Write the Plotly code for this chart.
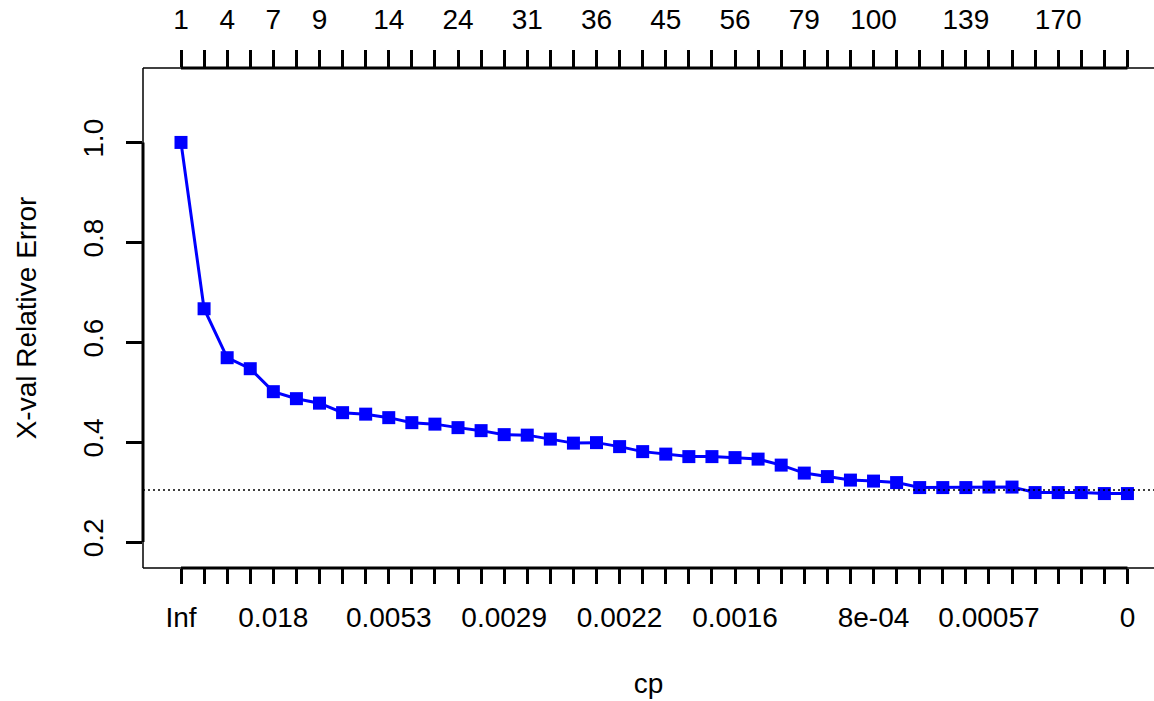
import plotly.graph_objects as go

# ---- data ----
xerror = [1.000, 0.667, 0.569, 0.547, 0.501, 0.487, 0.478, 0.459, 0.456, 0.449,
          0.439, 0.436, 0.429, 0.423, 0.415, 0.414, 0.406, 0.398, 0.399, 0.391,
          0.381, 0.376, 0.371, 0.371, 0.369, 0.366, 0.354, 0.338, 0.331, 0.324,
          0.322, 0.319, 0.309, 0.309, 0.309, 0.310, 0.310, 0.299, 0.299, 0.299,
          0.297, 0.297]
positions = list(range(len(xerror)))

size_tick_idx = [0, 2, 4, 6, 9, 12, 15, 18, 21, 24, 27, 30, 34, 38]
size_tick_lab = ["1", "4", "7", "9", "14", "24", "31", "36", "45", "56", "79", "100", "139", "170"]

cp_tick_idx = [0, 4, 9, 14, 19, 24, 30, 35, 41]
cp_tick_lab = ["Inf", "0.018", "0.0053", "0.0029", "0.0022", "0.0016", "8e-04", "0.00057", "0"]

y_tick_vals = [0.2, 0.4, 0.6, 0.8, 1.0]
y_tick_lab = ["0.2", "0.4", "0.6", "0.8", "1.0"]

threshold = 0.304

FONT = "Liberation Sans, Arial, sans-serif"
FS = 28

top_text = [size_tick_lab[size_tick_idx.index(i)] if i in size_tick_idx else "" for i in positions]
bot_text = [cp_tick_lab[cp_tick_idx.index(i)] if i in cp_tick_idx else "" for i in positions]

fig = go.Figure()
fig.add_trace(go.Scatter(x=positions, y=xerror, mode="lines+markers",
                         line=dict(color="#0000FF", width=3),
                         marker=dict(symbol="square", size=13, color="#0000FF"),
                         showlegend=False, hoverinfo="skip"))
fig.add_trace(go.Scatter(x=[positions[0]], y=[None], xaxis="x2", mode="markers",
                         showlegend=False, hoverinfo="skip"))

xr = [-1.646, 42.15]
fig.update_layout(
    width=1154, height=701,
    margin=dict(l=143, r=0, t=68, b=133, autoexpand=False),
    paper_bgcolor="white", plot_bgcolor="white",
    font=dict(family=FONT, size=FS, color="black"),
    xaxis=dict(range=xr, tickmode="array", tickvals=positions, ticktext=bot_text,
               ticks="outside", ticklen=15, tickwidth=3, tickcolor="black",
               showgrid=False, zeroline=False, showline=False, automargin=False,
               ticklabelstandoff=9,
               tickfont=dict(family=FONT, size=FS, color="black"),
               title=dict(text="cp", standoff=41, font=dict(family=FONT, size=FS))),
    xaxis2=dict(range=xr, overlaying="x", side="top", tickmode="array",
                tickvals=positions, ticktext=top_text,
                ticks="outside", ticklen=17, tickwidth=3, tickcolor="black",
                showgrid=False, zeroline=False, showline=False, automargin=False,
                ticklabelstandoff=10,
                tickfont=dict(family=FONT, size=FS, color="black")),
    yaxis=dict(range=[0.148, 1.149], tickmode="array", tickvals=y_tick_vals, ticktext=y_tick_lab,
               ticks="outside", ticklen=16, tickwidth=3, tickcolor="black", tickangle=-90,
               showgrid=False, zeroline=False, showline=False, automargin=False,
               ticklabelstandoff=12,
               tickfont=dict(family=FONT, size=FS, color="black"),
               title=dict(text="X-val Relative Error", standoff=32, font=dict(family=FONT, size=FS))),
)

# box (thin) on left, top, bottom
box = dict(color="black", width=1.5)
fig.add_shape(type="line", xref="paper", yref="paper", x0=0, x1=0, y0=0, y1=1, line=box)
fig.add_shape(type="line", xref="paper", yref="paper", x0=0, x1=1, y0=1, y1=1, line=box)
fig.add_shape(type="line", xref="paper", yref="paper", x0=0, x1=1, y0=0, y1=0, line=box)
# axis lines (thick) spanning tick range
ax = dict(color="black", width=3)
fig.add_shape(type="line", xref="x", yref="paper", x0=positions[0], x1=positions[-1], y0=0, y1=0, line=ax)
fig.add_shape(type="line", xref="x", yref="paper", x0=positions[0], x1=positions[-1], y0=1, y1=1, line=ax)
fig.add_shape(type="line", xref="paper", yref="y", x0=0, x1=0, y0=y_tick_vals[0], y1=y_tick_vals[-1], line=ax)
# dotted reference line
fig.add_shape(type="line", xref="paper", yref="y", x0=0, x1=1, y0=threshold, y1=threshold,
              line=dict(color="black", width=1.5, dash="2px,3px"))

fig.write_html("out.html", config={"displayModeBar": False},
               post_script="document.body.style.margin='0';document.body.style.overflow='hidden';")
